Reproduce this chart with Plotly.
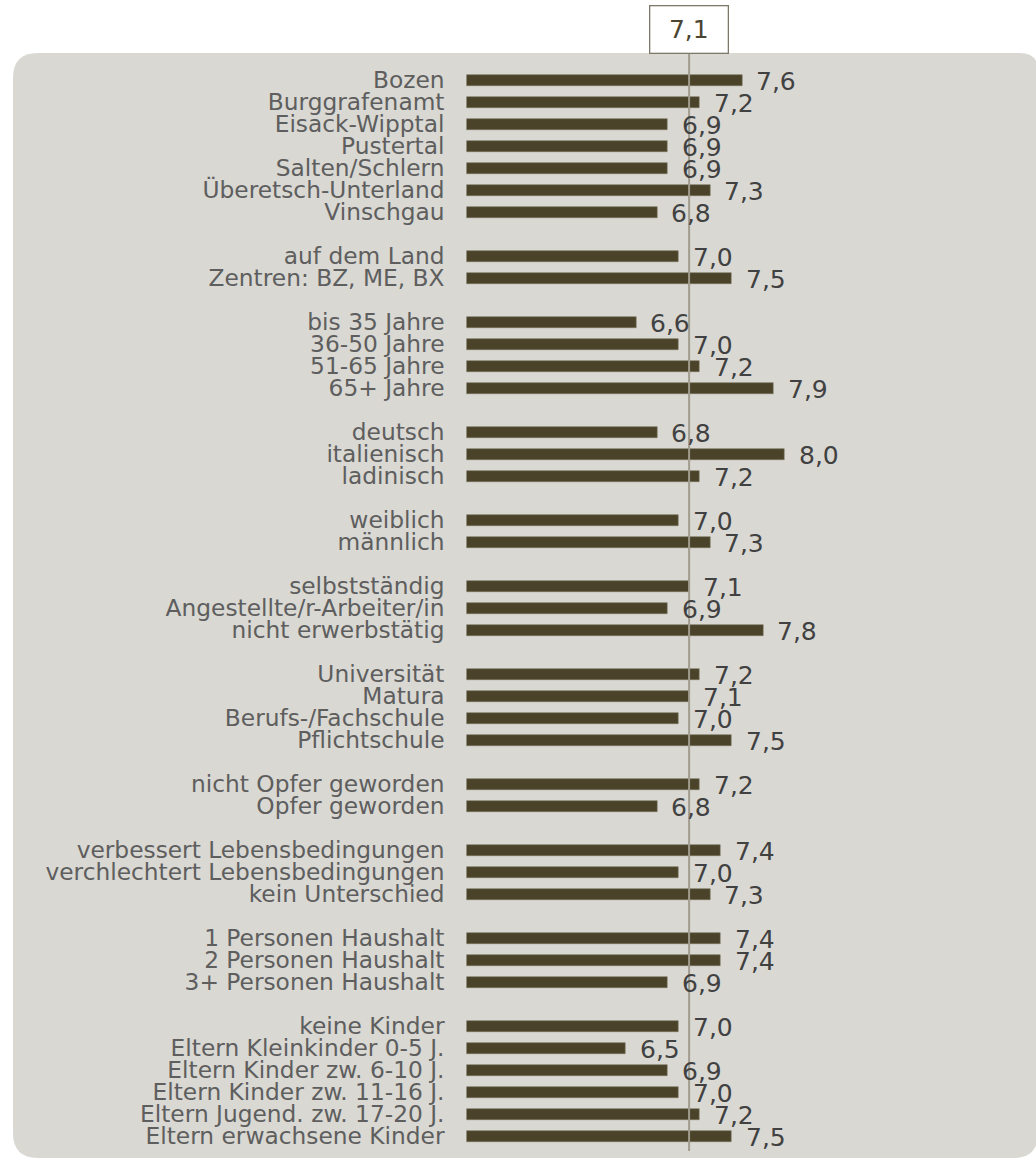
import plotly.graph_objects as go

# ---- data ----
region_labels = ["Bozen", "Burggrafenamt", "Eisack-Wipptal", "Pustertal",
                 "Salten/Schlern", "Überetsch-Unterland", "Vinschgau"]
region_values = [7.6, 7.2, 6.9, 6.9, 6.9, 7.3, 6.8]

area_labels = ["auf dem Land", "Zentren: BZ, ME, BX"]
area_values = [7.0, 7.5]

age_labels = ["bis 35 Jahre", "36-50 Jahre", "51-65 Jahre", "65+ Jahre"]
age_values = [6.6, 7.0, 7.2, 7.9]

language_labels = ["deutsch", "italienisch", "ladinisch"]
language_values = [6.8, 8.0, 7.2]

gender_labels = ["weiblich", "männlich"]
gender_values = [7.0, 7.3]

job_labels = ["selbstständig", "Angestellte/r-Arbeiter/in", "nicht erwerbstätig"]
job_values = [7.1, 6.9, 7.8]

education_labels = ["Universität", "Matura", "Berufs-/Fachschule", "Pflichtschule"]
education_values = [7.2, 7.1, 7.0, 7.5]

victim_labels = ["nicht Opfer geworden", "Opfer geworden"]
victim_values = [7.2, 6.8]

living_labels = ["verbessert Lebensbedingungen", "verchlechtert Lebensbedingungen",
                 "kein Unterschied"]
living_values = [7.4, 7.0, 7.3]

household_labels = ["1 Personen Haushalt", "2 Personen Haushalt", "3+ Personen Haushalt"]
household_values = [7.4, 7.4, 6.9]

children_labels = ["keine Kinder", "Eltern Kleinkinder 0-5 J.", "Eltern Kinder zw. 6-10 J.",
                   "Eltern Kinder zw. 11-16 J.", "Eltern Jugend. zw. 17-20 J.",
                   "Eltern erwachsene Kinder"]
children_values = [7.0, 6.5, 6.9, 7.0, 7.2, 7.5]

overall_value = 7.1

groups = [
    (region_labels, region_values),
    (area_labels, area_values),
    (age_labels, age_values),
    (language_labels, language_values),
    (gender_labels, gender_values),
    (job_labels, job_values),
    (education_labels, education_values),
    (victim_labels, victim_values),
    (living_labels, living_values),
    (household_labels, household_values),
    (children_labels, children_values),
]

# rows with one blank row between groups
labels, values, rows = [], [], []
r = 0
for gl, gv in groups:
    for l, v in zip(gl, gv):
        labels.append(l)
        values.append(v)
        rows.append(r)
        r += 1
    r += 1

def fmt(v):
    return f"{v:.1f}".replace(".", ",")

W, H = 1036, 1160
FONT = "DejaVu Sans, Verdana, sans-serif"
BAR = "#4a4329"

fig = go.Figure()
fig.add_trace(go.Bar(
    x=values, y=rows, orientation="h", width=0.5,
    marker=dict(color=BAR, line=dict(color="#7a745f", width=0.6)),
    hovertemplate="%{customdata}: %{x}<extra></extra>",
    customdata=labels,
))

annotations = []
for l, v, yy in zip(labels, values, rows):
    annotations.append(dict(
        x=v, y=yy, xref="x", yref="y", text=fmt(v), showarrow=False,
        xanchor="left", yanchor="middle", xshift=12, yshift=-1.5,
        font=dict(family=FONT, size=25, color="#414141"),
    ))

# overall value box on top
annotations.append(dict(
    x=overall_value, xref="x", y=1 - 29 / H, yref="paper",
    text=fmt(overall_value), showarrow=False, xanchor="center", yanchor="middle",
    width=77, height=46, bgcolor="white", bordercolor="#7d7868", borderwidth=1.3,
    borderpad=0, font=dict(family=FONT, size=25, color="#4a4430"),
))

# rounded background panel (paper coords)
x0, x1 = 13 / W, 1038 / W
yt, yb = 1 - 53 / H, 1 - 1158 / H
rx, ry = 25 / W, 25 / H
rx2, ry2 = 18 / W, 18 / H
path = (f"M {x0 + rx} {yt} L {x1 - rx2} {yt} Q {x1} {yt} {x1} {yt - ry2} "
        f"L {x1} {yb + ry} Q {x1} {yb} {x1 - rx} {yb} "
        f"L {x0 + rx} {yb} Q {x0} {yb} {x0} {yb + ry} "
        f"L {x0} {yt - ry} Q {x0} {yt} {x0 + rx} {yt} Z")

shapes = [
    dict(type="path", path=path, xref="paper", yref="paper",
         fillcolor="#d9d8d3", line=dict(width=0), layer="below"),
    dict(type="line", xref="x", yref="paper", x0=overall_value, x1=overall_value,
         y0=1 - 1151 / H, y1=1 - 53.5 / H,
         line=dict(color="#a19d8e", width=2), layer="above"),
]

# axis geometry: x=5 at 466.5px, 106 px per unit; rows 22px apart, first at 80.3px
px0, ppu = 466.5, 106.0
xmin = 5.0
xmax = xmin + (W - px0) / ppu
row0, ppr = 80.3, 22.0
ytop = -row0 / ppr
ybot = (H - row0) / ppr

fig.update_layout(
    width=W, height=H,
    margin=dict(l=0, r=0, t=0, b=0),
    paper_bgcolor="white", plot_bgcolor="rgba(0,0,0,0)",
    showlegend=False, bargap=0,
    xaxis=dict(domain=[px0 / W, 1], range=[xmin, xmax], visible=False, fixedrange=True),
    yaxis=dict(range=[ybot, ytop], tickvals=rows, ticktext=labels, ticks="",
               showgrid=False, zeroline=False, showline=False,
               ticklabelstandoff=21,
               tickfont=dict(family=FONT, size=23.3, color="#5e5e5e"), fixedrange=True),
    annotations=annotations, shapes=shapes,
    font=dict(family=FONT),
)

fig.write_html(
    "out.html",
    config={"displayModeBar": False},
    post_script="document.body.style.margin='0';document.body.style.overflow='hidden';",
)
